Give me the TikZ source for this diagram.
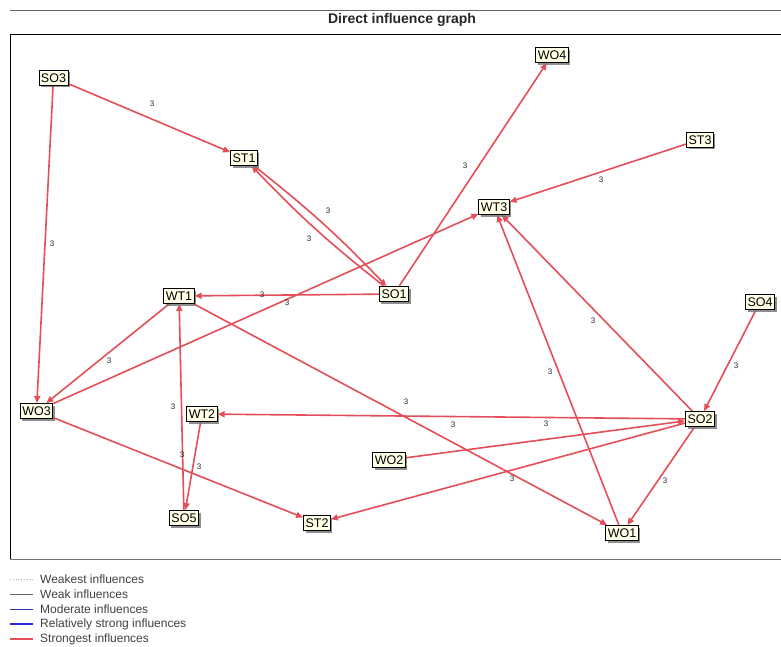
\documentclass[tikz,border=0pt]{standalone}
\usepackage{fontspec}
\setmainfont{Liberation Sans}
\usetikzlibrary{arrows.meta,shadows}
\definecolor{edgered}{RGB}{228,78,88}
\definecolor{nodefill}{RGB}{255,255,232}
\definecolor{legtext}{RGB}{64,64,64}
\definecolor{modblue}{RGB}{50,50,175}
\definecolor{strblue}{RGB}{40,40,220}
\pgfdeclarelayer{edgelayer}
\pgfsetlayers{edgelayer,main}
\begin{document}
\begin{tikzpicture}[x=1pt,y=-1pt,
  vnode/.style={draw=black, line width=0.9pt, fill=nodefill,
    font=\fontsize{12.5}{12.5}\selectfont, inner xsep=2pt, inner ysep=3pt,
    text height=9pt, text depth=0pt,
    drop shadow={shadow xshift=2pt, shadow yshift=-2pt, fill=black!55, opacity=0.8}},
  infl/.style={draw=edgered, line width=1.6pt, -{Triangle[length=7pt,width=6pt]}},
  wlab/.style={font=\fontsize{8}{8}\selectfont, text=black!85, inner sep=0pt},
  legline/.style={line width=0.8pt},
  legtxt/.style={anchor=west, inner sep=0pt, text=legtext, font=\fontsize{12}{12}\selectfont}]
\useasboundingbox (0,0) rectangle (781,646);
% header and frame
\draw[black!60, line width=0.8pt] (10,10) -- (781,10);
\node[font=\bfseries\fontsize{14}{14}\selectfont, text=black!85] (title) at (402,20) {Direct influence graph};
\draw[black, line width=0.9pt] (781,34) -- (10,34) -- (10,559);
\draw[black!55, line width=0.9pt] (10,559) -- (781,559);
% nodes
\node[vnode] (SO3) at (53.5,77.5) {SO3};
\node[vnode] (ST1) at (244,158) {ST1};
\node[vnode] (WO4) at (552,55) {WO4};
\node[vnode] (ST3) at (700,139.5) {ST3};
\node[vnode] (WT3) at (494,207) {WT3};
\node[vnode] (SO1) at (394,294) {SO1};
\node[vnode] (WT1) at (179,296) {WT1};
\node[vnode] (SO4) at (760,302) {SO4};
\node[vnode] (WO3) at (36.5,411) {WO3};
\node[vnode] (WT2) at (202,414) {WT2};
\node[vnode] (SO5) at (184,518) {SO5};
\node[vnode] (SO2) at (700,419) {SO2};
\node[vnode] (WO2) at (389,460) {WO2};
\node[vnode] (ST2) at (317,523) {ST2};
\node[vnode] (WO1) at (622,533) {WO1};
% connectors
\begin{pgfonlayer}{edgelayer}
\draw[infl] (SO3) -- (ST1);
\draw[infl] (SO3) -- (WO3);
\draw[infl] (ST1) to[bend left=4] (SO1);
\draw[infl] (SO1) to[bend left=4] (ST1);
\draw[infl] (SO1) -- (WT1);
\draw[infl] (SO1) -- (WO4);
\draw[infl] (WO3) -- (WT3);
\draw[infl] (ST3) -- (WT3);
\draw[infl] (SO2) -- (WT3);
\draw[infl] (WO1) -- (WT3);
\draw[infl] (SO4) -- (SO2);
\draw[infl] (SO2) -- (WT2);
\draw[infl] (WO2) -- (SO2);
\draw[infl] (SO2) -- (ST2);
\draw[infl] (SO2) -- (WO1);
\draw[infl] (WT1) -- (WO1);
\draw[infl] (WT1) -- (WO3);
\draw[infl] (SO5) -- (WT1);
\draw[infl] (WT2) -- (SO5);
\draw[infl] (WO3) -- (ST2);
\end{pgfonlayer}
% weights
\node[wlab] (l1) at (152,104) {3};
\node[wlab] (l2) at (52,244) {3};
\node[wlab] (l3) at (328,211) {3};
\node[wlab] (l4) at (309,239) {3};
\node[wlab] (l5) at (262,295) {3};
\node[wlab] (l6) at (465,166) {3};
\node[wlab] (l7) at (287,303) {3};
\node[wlab] (l8) at (601,180) {3};
\node[wlab] (l9) at (593,321) {3};
\node[wlab] (l10) at (550,372) {3};
\node[wlab] (l11) at (736,366) {3};
\node[wlab] (l12) at (453,425) {3};
\node[wlab] (l13) at (546,424) {3};
\node[wlab] (l14) at (512,479) {3};
\node[wlab] (l15) at (665,481) {3};
\node[wlab] (l16) at (406,402) {3};
\node[wlab] (l17) at (109,361) {3};
\node[wlab] (l18) at (173,407) {3};
\node[wlab] (l19) at (199,467) {3};
\node[wlab] (l20) at (182,455) {3};
% legend
\draw[legline, black!30, dotted] (10,579) -- (33,579);
\node[legtxt] (g1) at (40,579) {Weakest influences};
\draw[legline, black!60] (10,594) -- (33,594);
\node[legtxt] (g2) at (40,594) {Weak influences};
\draw[legline, modblue] (10,609) -- (33,609);
\node[legtxt] (g3) at (40,609) {Moderate influences};
\draw[line width=1.6pt, strblue] (10,624) -- (33,624);
\node[legtxt] (g4) at (40,624) {Relatively strong influences};
\draw[line width=1.6pt, edgered] (10,639) -- (33,639);
\node[legtxt] (g5) at (40,639) {Strongest influences};
\end{tikzpicture}
\end{document}
